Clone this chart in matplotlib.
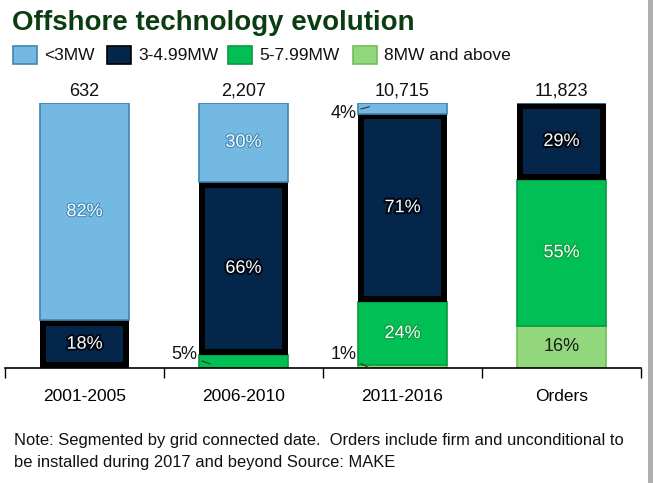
import numpy as np
import matplotlib
matplotlib.use("Agg")
import matplotlib.pyplot as plt
import matplotlib.patheffects as pe
from matplotlib.patches import Rectangle

plt.rcParams['font.family'] = ['Liberation Sans', 'DejaVu Sans']

periods = ["2001-2005", "2006-2010", "2011-2016", "Orders"]
totals = ["632", "2,207", "10,715", "11,823"]
classes = ["<3MW", "3-4.99MW", "5-7.99MW", "8MW and above"]
# shares in % (stack order bottom -> top: 8MW+, 5-7.99, 3-4.99, <3)
lt3 = [82, 30, 4, 0]
mw3 = [18, 66, 71, 29]
mw5 = [0, 5, 24, 55]
mw8 = [0, 0, 1, 16]

fills = {"<3MW": "#74B9E2", "3-4.99MW": "#03264A",
         "5-7.99MW": "#00BF55", "8MW and above": "#93D77C"}
edges = {"<3MW": "#3E86B4", "3-4.99MW": "#000000",
         "5-7.99MW": "#0A9A3E", "8MW and above": "#6FBF5A"}

fig = plt.figure(figsize=(6.53, 4.83), dpi=100)
ax = fig.add_axes([5/653, 115/483, 636/653, 265/483])

x = np.arange(len(periods))
w = 0.555
stack = [("8MW and above", mw8), ("5-7.99MW", mw5), ("3-4.99MW", mw3), ("<3MW", lt3)]
tot = np.array(lt3) + np.array(mw3) + np.array(mw5) + np.array(mw8)
bottom = np.zeros(len(periods))
for name, vals in stack:
    v = np.array(vals, dtype=float) / tot * 100
    if name == "3-4.99MW":
        # black frame with navy core, like the glow in the original
        ax.bar(x, v, w, bottom=bottom, color="black", linewidth=0)
        dx = 12 / 159
        dy = 2.2
        inner = np.clip(v - 2 * dy, 0, None)
        ax.bar(x, inner, w - dx, bottom=bottom + dy, color=fills[name], linewidth=0)
    else:
        ax.bar(x, v, w, bottom=bottom, color=fills[name], edgecolor=edges[name], linewidth=1.2)
    for i in range(len(periods)):
        if vals[i] >= 10:
            yc = bottom[i] + v[i] / 2
            if name == "8MW and above":
                ax.text(x[i], yc, f"{vals[i]}%", ha="center", va="center",
                        fontsize=13, color="#1a1a1a")
            elif name == "3-4.99MW":
                ax.text(x[i], yc, f"{vals[i]}%", ha="center", va="center",
                        fontsize=13, color="white",
                        path_effects=[pe.withStroke(linewidth=3, foreground="#000814")])
            else:
                ax.text(x[i], yc, f"{vals[i]}%", ha="center", va="center",
                        fontsize=13, color="white",
                        path_effects=[pe.withStroke(linewidth=1.5, foreground=edges[name])])
    bottom += v

# small segments labelled outside with leader lines
small = [(1, "5%", 5.0, 1.5), (2, "4%", 96.0, 98.6), (2, "1%", 5.0, 0.0)]
for i, lab, ty, ly in small:
    ax.annotate(lab, xy=(x[i] - w/2 + 0.07, ly), xytext=(x[i] - w/2 - 0.01, ty),
                ha="right", va="center", fontsize=13, color="#111",
                arrowprops=dict(arrowstyle="-", color="#333", lw=0.8,
                                shrinkA=1, shrinkB=0))

for i, t in enumerate(totals):
    ax.text(x[i], 104.5, t, ha="center", va="center", fontsize=13, color="#111")

ax.set_xlim(-0.5, len(periods) - 0.5)
ax.set_ylim(0, 100)
ax.set_yticks([])
ax.set_xticks(np.arange(len(periods) + 1) - 0.5, minor=True)
ax.set_xticks(x)
ax.set_xticklabels(periods, fontsize=12.5)
ax.tick_params(axis="x", which="major", length=0, pad=15)
ax.tick_params(axis="x", which="minor", length=7, width=1, direction="out")
for s in ["top", "left", "right"]:
    ax.spines[s].set_visible(False)
ax.spines["bottom"].set_linewidth(1.2)

fig.text(12/653, 1 - 23/483, "Offshore technology evolution", fontsize=20,
         fontweight="bold", color="#0b3d12", va="center", ha="left")

# legend
lx = [13, 107, 228, 353]
for px, name in zip(lx, classes):
    fig.patches.append(Rectangle((px/653, 1 - 64/483), 24/653, 18/483,
                                 transform=fig.transFigure,
                                 facecolor=fills[name], edgecolor=edges[name], lw=1.2))
    fig.text((px + 31)/653, 1 - 55/483, name, fontsize=12.5, va="center", ha="left", color="#111")

fig.text(14/653, 1 - 441/483,
         "Note: Segmented by grid connected date.  Orders include firm and unconditional to",
         fontsize=11.9, va="center", ha="left", color="#111")
fig.text(14/653, 1 - 462/483, "be installed during 2017 and beyond Source: MAKE",
         fontsize=11.9, va="center", ha="left", color="#111")

# right edge shadow
fig.patches.append(Rectangle((648/653, 0), 5/653, 1, transform=fig.transFigure,
                             facecolor="#b0b0b0", edgecolor="none"))

fig.savefig("out.png", dpi=100)
